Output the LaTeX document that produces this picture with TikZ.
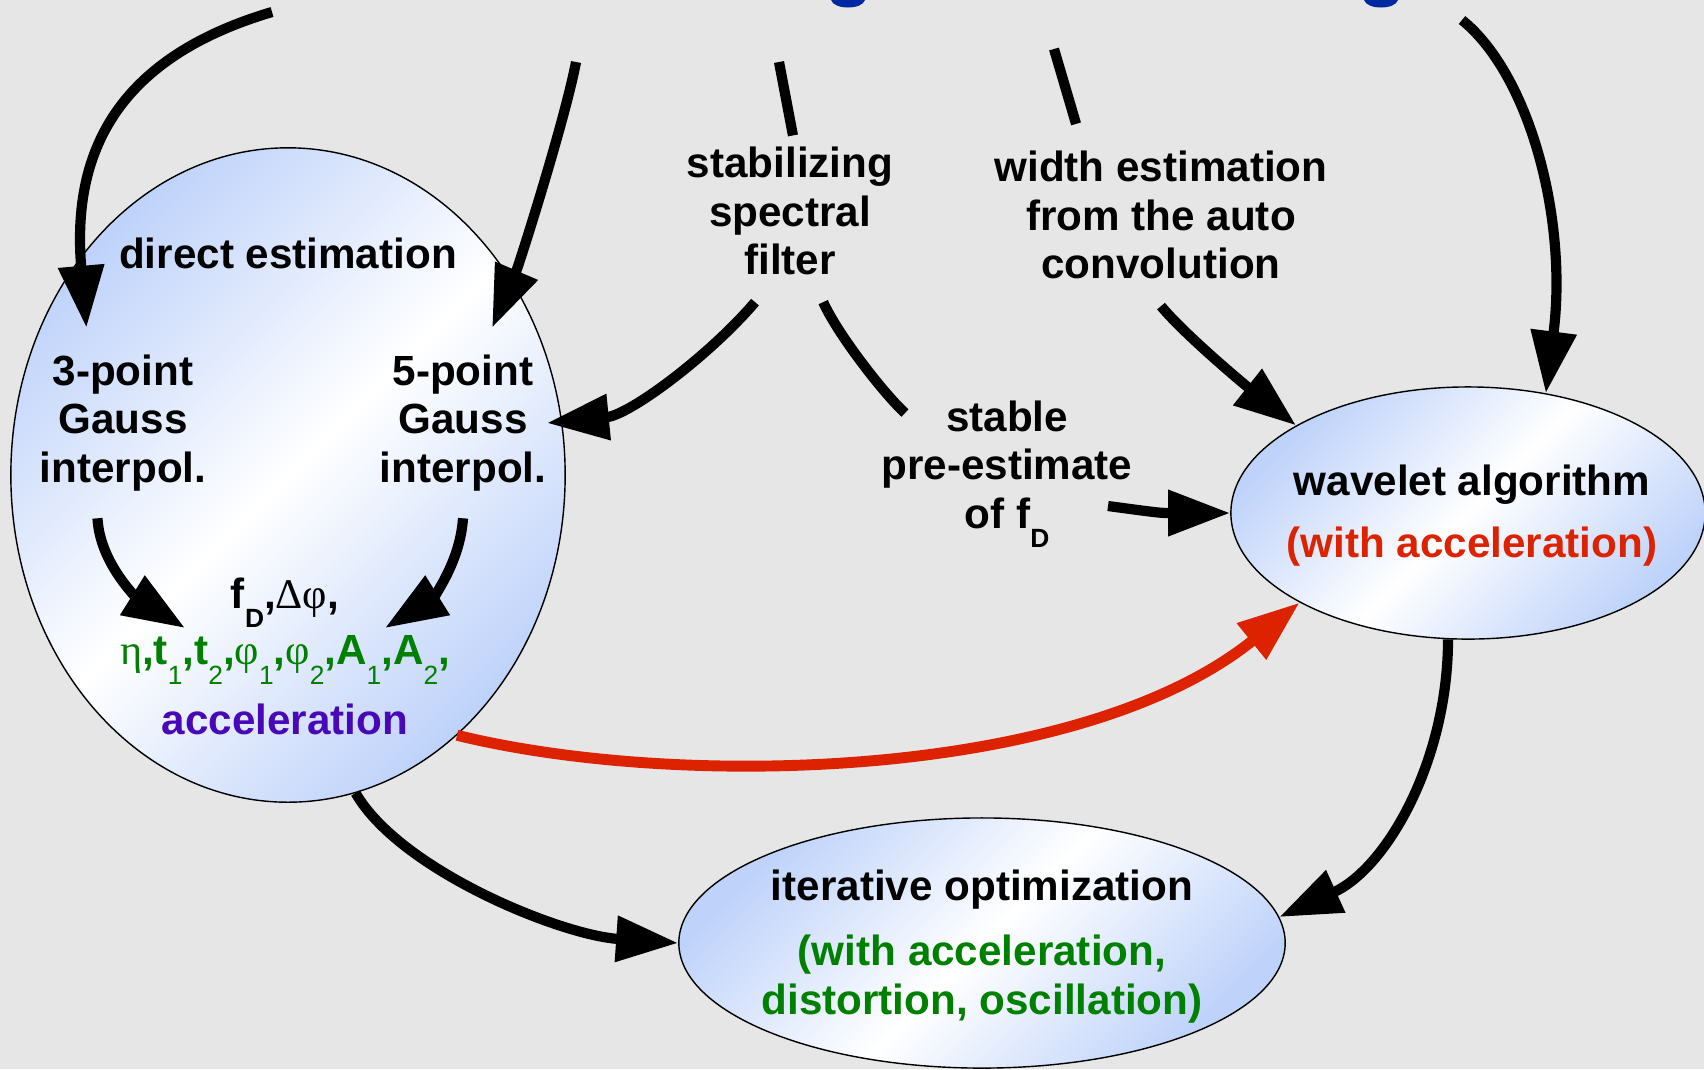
\documentclass[tikz,border=0pt]{standalone}
\usepackage{fontspec}
\setmainfont{Liberation Sans}
\newfontfamily\grk{Liberation Serif}
\usetikzlibrary{arrows.meta,shapes.geometric}

\definecolor{bggray}{RGB}{230,230,230}
\definecolor{ellblue}{RGB}{190,210,250}
\definecolor{accred}{RGB}{221,34,0}
\definecolor{pargreen}{RGB}{0,128,0}
\definecolor{accpurple}{RGB}{72,8,184}
\definecolor{ttlblue}{RGB}{0,40,160}

\pgfdeclarehorizontalshading{ellshade}{100bp}{color(0bp)=(ellblue); color(25bp)=(ellblue); color(50bp)=(white); color(75bp)=(ellblue); color(100bp)=(ellblue)}

\newcommand{\idx}[1]{\raisebox{-5.5pt}{\fontsize{7.5}{7.5}\selectfont #1}}

\tikzset{
  blob/.style={ellipse, draw, thin, shading=ellshade, shading angle=-45},
  lbl/.style={font=\fontsize{12}{13.8}\selectfont\bfseries, align=center, inner xsep=0pt, inner ysep=7.5pt},
  arr/.style={line width=2.9pt, -{Triangle[length=6.2mm,width=4.4mm]}},
  stub/.style={line width=2.9pt},
}

\begin{document}
\begin{tikzpicture}[x=0.01cm, y=-0.01cm]
    \fill[bggray] (0,0) rectangle (1704,1069);
    \useasboundingbox (0,0) rectangle (1704,1069);

    % bits of the title, cut off at the top
    \fill[ttlblue] (831,0) .. controls (834,10) and (862,10) .. (865,0) -- cycle;
    \fill[ttlblue] (1364,0) .. controls (1367,10) and (1395,10) .. (1398,0) -- cycle;

    \node[blob, minimum width=5.54cm, minimum height=6.54cm] (dir) at (288,475) {};
    \node[blob, minimum width=4.74cm, minimum height=2.52cm] (wav) at (1468,513) {};
    \node[blob, minimum width=6.06cm, minimum height=2.50cm] (iter) at (982,943) {};

    \node[lbl] (dirtxt) at (288,253) {direct estimation};
    \node[lbl] (p3) at (123,423) {3-point\\Gauss\\interpol.};
    \node[lbl] (p5) at (463,423) {5-point\\Gauss\\interpol.};
    \node[lbl] (fd) at (285,603) {f\idx{D},{\mdseries\grk Δφ},};
    \node[lbl, text=pargreen] (par) at (285,660) {{\mdseries\grk η},t\idx{\mdseries 1},t\idx{\mdseries 2},{\mdseries\grk φ}\idx{\mdseries 1},{\mdseries\grk φ}\idx{\mdseries 2},A\idx{\mdseries 1},A\idx{\mdseries 2},};
    \node[lbl, text=accpurple] (acc) at (285,719) {acceleration};

    \node[lbl] (filt) at (790,211) {stabilizing\\spectral\\filter};
    \node[lbl] (west) at (1161,215) {width estimation\\from the auto\\convolution};
    \node[lbl] (pre) at (1007,474) {stable\\pre-estimate\\of f\idx{D}};

    \node[lbl] (wavtxt) at (1472,485) {wavelet algorithm};
    \node[lbl, text=accred] (wavacc) at (1472,547) {(with acceleration)};
    \node[lbl] (itertxt) at (982,890) {iterative optimization};
    \node[lbl, text=pargreen] (itergrn) at (982,979) {(with acceleration,\\distortion, oscillation)};

    \coordinate (top1) at (272,12);
    \coordinate (top2) at (576,62);
    \coordinate (top3) at (779,62);
    \coordinate (top4) at (1054,49);
    \coordinate (top5) at (1462,20);

    \draw[arr] (top1) .. controls (110,60) and (72,160) .. (p3.111);
    \draw[arr] (top2) .. controls (565,120) and (519,265) .. (p5.73);
    \draw[stub, shorten >=-4.5pt] (top3) -- (filt.north);
    \draw[stub] (top4) -- (west.133);
    \draw[arr] (top5) .. controls (1530,75) and (1568,220) .. (wav.57);

    \draw[arr] (filt.-111) .. controls (710,355) and (630,415) .. (p5.east);
    \draw[stub] (filt.-70) .. controls (838,335) and (885,395) .. ([shift={(-102,-61)}]pre.center);
    \draw[arr] ([shift={(101,32)}]pre.center) .. controls (1160,513) .. (wav.west);
    \draw[arr] (west.south) .. controls (1185,335) and (1245,385) .. (wav.153);

    \draw[arr] (p3.-105) .. controls (100,565) and (140,600) .. ([shift={(-100,-32)}]par.center);
    \draw[arr] (p5.south) .. controls (460,565) and (430,600) .. ([shift={(100,-32)}]par.center);

    \draw[arr] (dir.-78) .. controls (400,870) and (560,935) .. (iter.west);
    \draw[arr] (wav.-99) .. controls (1448,760) and (1387,868) .. (iter.5);
    \draw[arr, accred, line width=3.1pt] (dir.-57) .. controls (680,790) and (1080,780) .. (wav.208);
\end{tikzpicture}
\end{document}
